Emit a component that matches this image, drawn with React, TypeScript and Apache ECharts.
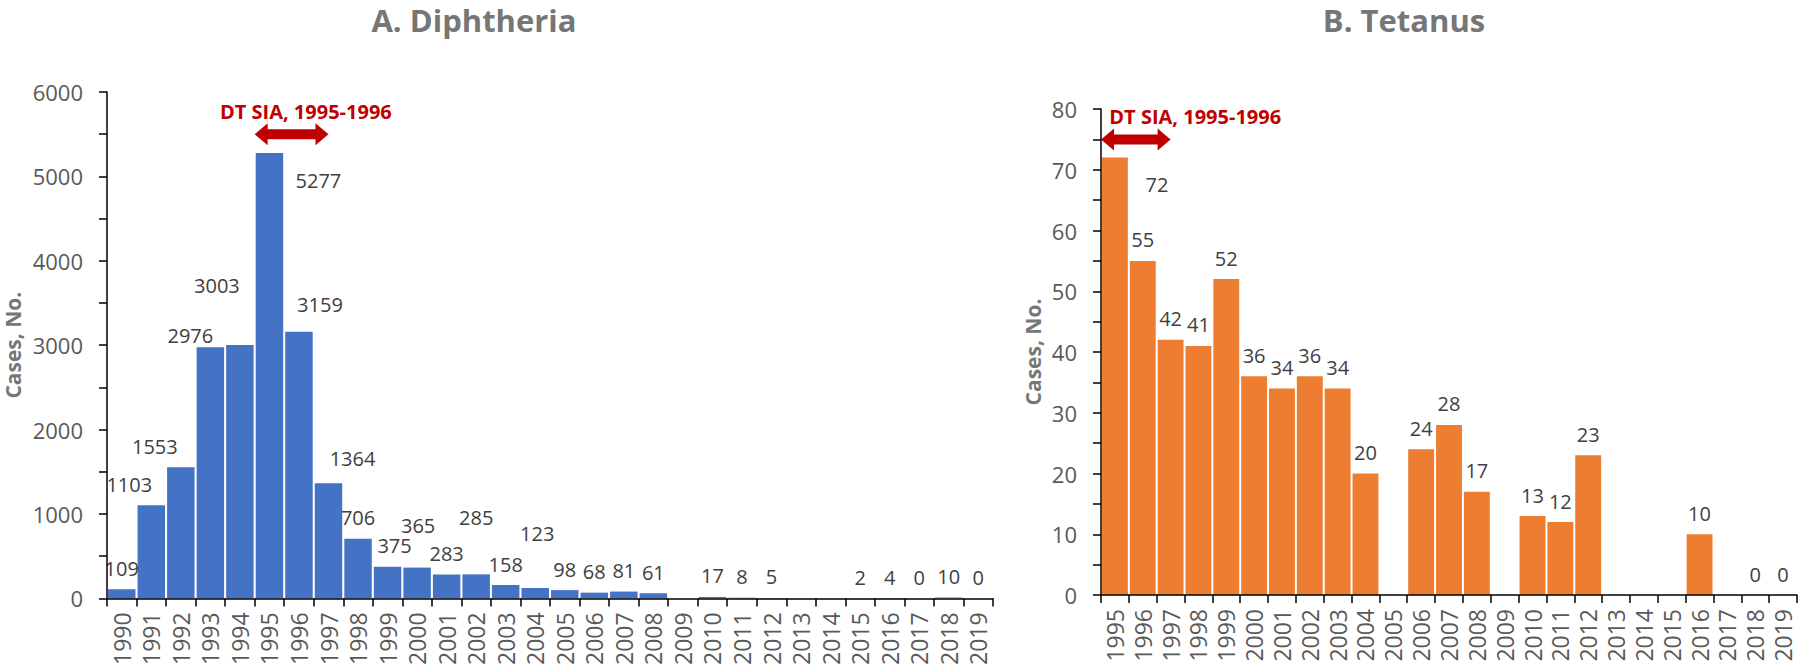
import React, { useEffect, useRef } from "react";
import * as echarts from "echarts";

// ---------- data ----------
const diphYears = [
  "1990", "1991", "1992", "1993", "1994", "1995", "1996", "1997", "1998", "1999",
  "2000", "2001", "2002", "2003", "2004", "2005", "2006", "2007", "2008", "2009",
  "2010", "2011", "2012", "2013", "2014", "2015", "2016", "2017", "2018", "2019",
];
const diphCases: (number | null)[] = [
  109, 1103, 1553, 2976, 3003, 5277, 3159, 1364, 706, 375,
  365, 283, 285, 158, 123, 98, 68, 81, 61, null,
  17, 8, 5, null, null, 2, 4, 0, 10, 0,
];

const tetYears = [
  "1995", "1996", "1997", "1998", "1999", "2000", "2001", "2002", "2003", "2004",
  "2005", "2006", "2007", "2008", "2009", "2010", "2011", "2012", "2013", "2014",
  "2015", "2016", "2017", "2018", "2019",
];
const tetCases: (number | null)[] = [
  72, 55, 42, 41, 52, 36, 34, 36, 34, 20,
  null, 24, 28, 17, null, 13, 12, 23, null, null,
  null, 10, null, 0, 0,
];

const diphAxis = { min: 0, max: 6000, interval: 500, labelStep: 1000 };
const tetAxis = { min: 0, max: 80, interval: 5, labelStep: 10 };

const campaignText = "DT SIA, 1995-1996";
const campaignStart = "1995";
const campaignNext = "1996";
const campaignEnd = "1997";

// ---------- layout (label nudges, as placed by hand in the original) ----------
const diphLabelShift: Record<string, [number, number]> = {
  "1991": [-22, 0],
  "1992": [-26, 0],
  "1993": [-20, 9],
  "1994": [-23, -38],
  "1995": [49, 48],
  "1996": [21, -6],
  "1997": [24, -4],
  "1999": [7, 0],
  "2000": [1, -21],
  "2002": [0, -36],
  "2004": [2, -34],
};
const tetLabelShift: Record<string, [number, number]> = {
  "1995": [42, 48],
};

const FONT = "'Open Sans', 'Noto Sans', sans-serif";
const BLUE = "#4472C4";
const ORANGE = "#ED7D31";
const RED = "#C00000";
const GREY_TITLE = "#767676";
const GREY_TICK = "#595959";
const LABEL = "#404040";

function buildData(years: string[], values: (number | null)[], shift: Record<string, [number, number]>) {
  return values.map((v, i) => {
    if (v === null) return "-";
    const s = shift[years[i]];
    return s ? { value: v, label: { offset: s } } : v;
  });
}

function xAxisCfg(gridIndex: number, data: string[]) {
  return {
    type: "category",
    gridIndex,
    data,
    z: 10,
    axisLine: { show: true, lineStyle: { color: "#000", width: 1.5 } },
    axisTick: { show: true, length: 8, lineStyle: { color: "#000", width: 1.5 } },
    axisLabel: {
      interval: 0,
      rotate: 90,
      margin: 14,
      fontSize: 23,
      color: GREY_TICK,
      fontFamily: FONT,
    },
  };
}

function yAxisCfg(gridIndex: number, ax: typeof diphAxis, nameGap: number) {
  return {
    type: "value",
    gridIndex,
    min: ax.min,
    max: ax.max,
    interval: ax.interval,
    z: 10,
    name: "Cases, No.",
    nameLocation: "middle",
    nameGap,
    nameTextStyle: { fontSize: 21, fontWeight: "bold", color: GREY_TITLE, fontFamily: FONT },
    axisLine: { show: true, lineStyle: { color: "#000", width: 1.5 } },
    axisTick: { show: true, length: 8, lineStyle: { color: "#000", width: 1.5 } },
    splitLine: { show: false },
    axisLabel: {
      margin: 24,
      fontSize: 22,
      color: GREY_TICK,
      fontFamily: FONT,
      formatter: (v: number) => (v % ax.labelStep === 0 ? String(v) : ""),
    },
  };
}

function barSeries(idx: number, color: string, data: any[]) {
  return {
    type: "bar",
    xAxisIndex: idx,
    yAxisIndex: idx,
    data,
    barCategoryGap: "7%",
    itemStyle: { color },
    label: {
      show: true,
      position: "top",
      distance: 11,
      fontSize: 20,
      color: LABEL,
      fontFamily: FONT,
    },
  };
}

function arrow(x1: number, x2: number, y: number, hl: number, hh: number, sh: number) {
  return [
    [x1, y],
    [x1 + hl, y - hh],
    [x1 + hl, y - sh],
    [x2 - hl, y - sh],
    [x2 - hl, y - hh],
    [x2, y],
    [x2 - hl, y + hh],
    [x2 - hl, y + sh],
    [x1 + hl, y + sh],
    [x1 + hl, y + hh],
  ];
}

export default function App() {
  const ref = useRef<HTMLDivElement>(null);

  useEffect(() => {
    if (!ref.current) return;
    const chart = echarts.init(ref.current, undefined, { renderer: "svg" });

    chart.setOption({
      animation: false,
      backgroundColor: "#ffffff",
      grid: [
        { left: 107, top: 92, width: 886, height: 507 },
        { left: 1101, top: 109, width: 696, height: 486 },
      ],
      xAxis: [xAxisCfg(0, diphYears), xAxisCfg(1, tetYears)],
      yAxis: [yAxisCfg(0, diphAxis, 84), yAxisCfg(1, tetAxis, 58)],
      series: [
        barSeries(0, BLUE, buildData(diphYears, diphCases, diphLabelShift)),
        barSeries(1, ORANGE, buildData(tetYears, tetCases, tetLabelShift)),
      ],
    });

    // annotations positioned from the axes
    const px = (g: number, cat: string, val: number) =>
      chart.convertToPixel({ xAxisIndex: g, yAxisIndex: g }, [cat, val]) as number[];

    const annot = (g: number, yVal: number, textVal: number, textDx: number) => {
      const a = px(g, campaignStart, yVal);
      const b = px(g, campaignEnd, yVal);
      const next = px(g, campaignNext, yVal);
      const band = next[0] - a[0];
      const x1 = a[0] - band / 2;
      const x2 = b[0];
      const t = px(g, campaignStart, textVal);
      return [
        {
          type: "polygon",
          shape: { points: arrow(x1, x2, a[1], 13, 11, 5) },
          style: { fill: RED },
        },
        {
          type: "text",
          x: t[0] + textDx,
          y: t[1],
          style: {
            text: campaignText,
            fill: RED,
            font: `bold 20px ${FONT}`,
            textAlign: "left",
            textVerticalAlign: "middle",
          },
        },
      ];
    };

    chart.setOption({
      graphic: [
        {
          type: "text",
          x: 474,
          y: 20,
          style: {
            text: "A. Diphtheria",
            fill: GREY_TITLE,
            font: `bold 31px ${FONT}`,
            textAlign: "center",
            textVerticalAlign: "middle",
          },
        },
        {
          type: "text",
          x: 1404,
          y: 20,
          style: {
            text: "B. Tetanus",
            fill: GREY_TITLE,
            font: `bold 31px ${FONT}`,
            textAlign: "center",
            textVerticalAlign: "middle",
          },
        },
        ...annot(0, 5500, 5767, -49.5),
        ...annot(1, 75, 78.7, -5.6),
      ],
    });

    return () => chart.dispose();
  }, []);

  return (
    <div
      ref={ref}
      style={{ position: "fixed", left: 0, top: 0, width: 1800, height: 668 }}
    />
  );
}
